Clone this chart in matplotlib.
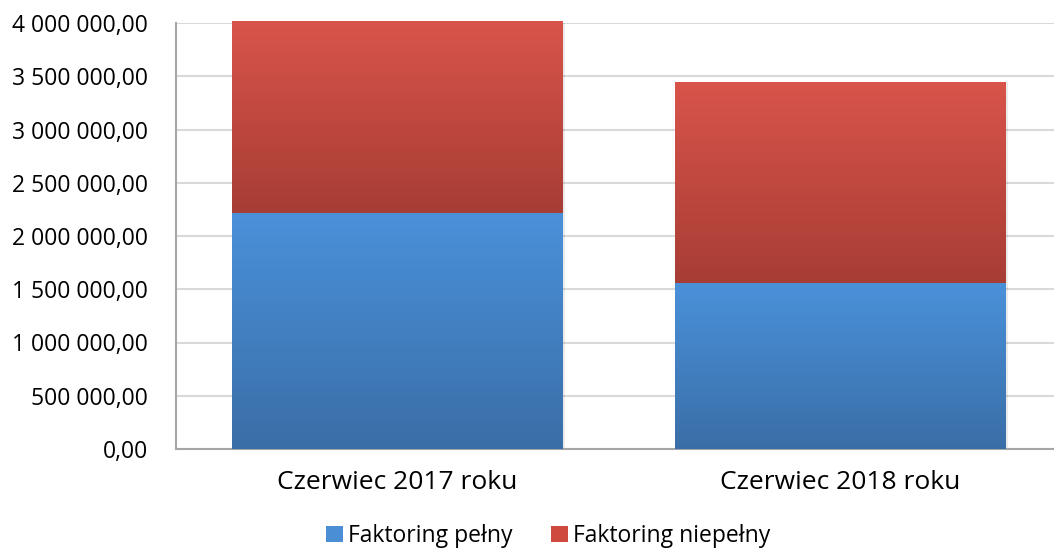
import numpy as np
import matplotlib.pyplot as plt
from matplotlib.colors import LinearSegmentedColormap
from matplotlib.ticker import FuncFormatter
from matplotlib.patches import Rectangle

categories = ["Czerwiec 2017 roku", "Czerwiec 2018 roku"]
pelny = [2215000, 1558000]
niepelny = [1805000, 1888000]
series_names = ["Faktoring pełny", "Faktoring niepełny"]

plt.rcParams['font.family'] = ['Open Sans', 'DejaVu Sans']

fig = plt.figure(figsize=(10.54, 5.52), dpi=100)
ax = fig.add_axes([176/1054, 1 - 449/552, (1062-176)/1054, (449-23)/552])

ax.set_xlim(-0.5, 1.5)
ax.set_ylim(0, 4000000)
ax.set_yticks(np.arange(0, 4000001, 500000))

def fmt(v, pos):
    s = f"{v:,.2f}"
    return s.replace(",", " ").replace(".", ",")
ax.yaxis.set_major_formatter(FuncFormatter(fmt))

ax.grid(axis='y', color='#d9d9d9', linewidth=1.5)
ax.set_axisbelow(True)
for s in ['top', 'right']:
    ax.spines[s].set_visible(False)
ax.spines['left'].set_color('#a6a6a6')
ax.spines['bottom'].set_color('#a6a6a6')
ax.spines['left'].set_linewidth(1.5)
ax.spines['bottom'].set_linewidth(1.5)
ax.tick_params(axis='y', length=0, labelsize=16.5, pad=20)
ax.tick_params(axis='x', length=0, labelsize=19, pad=15)
ax.set_xticks(range(len(categories)))
ax.set_xticklabels(categories)

blue_cm = LinearSegmentedColormap.from_list('b', ['#3a6ea7', '#4a91da'])
red_cm = LinearSegmentedColormap.from_list('r', ['#a73d35', '#d9544b'])

width = 0.747
grad = np.linspace(0, 1, 256).reshape(-1, 1)
for i in range(len(categories)):
    segs = [(0, pelny[i], blue_cm), (pelny[i], pelny[i] + niepelny[i], red_cm)]
    for y0, y1, cm in segs:
        # soft shadow
        sh = Rectangle((i - width/2 + 0.004, y0), width, y1 - y0,
                       facecolor='#000000', alpha=0.08, edgecolor='none', zorder=2)
        ax.add_patch(sh)
        rect = Rectangle((i - width/2, y0), width, y1 - y0,
                         facecolor='none', edgecolor='none', zorder=3)
        ax.add_patch(rect)
        im = ax.imshow(grad, cmap=cm, aspect='auto', origin='lower',
                       extent=(i - width/2, i + width/2, y0, y1), zorder=3)
        im.set_clip_path(rect)

ax.set_xlim(-0.5, 1.5)
ax.set_ylim(0, 4000000)

handles = [Rectangle((0, 0), 1, 1, facecolor='#4a8fd6'),
           Rectangle((0, 0), 1, 1, facecolor='#d0493f')]
fig.legend(handles, series_names, loc='center', bbox_to_anchor=(548/1054, 1 - 536/552),
           ncol=2, frameon=False, fontsize=16.5, handlelength=0.75, handleheight=0.75,
           handletextpad=0.2, columnspacing=1.7, borderpad=0)

fig.savefig("out.png", dpi=100)
